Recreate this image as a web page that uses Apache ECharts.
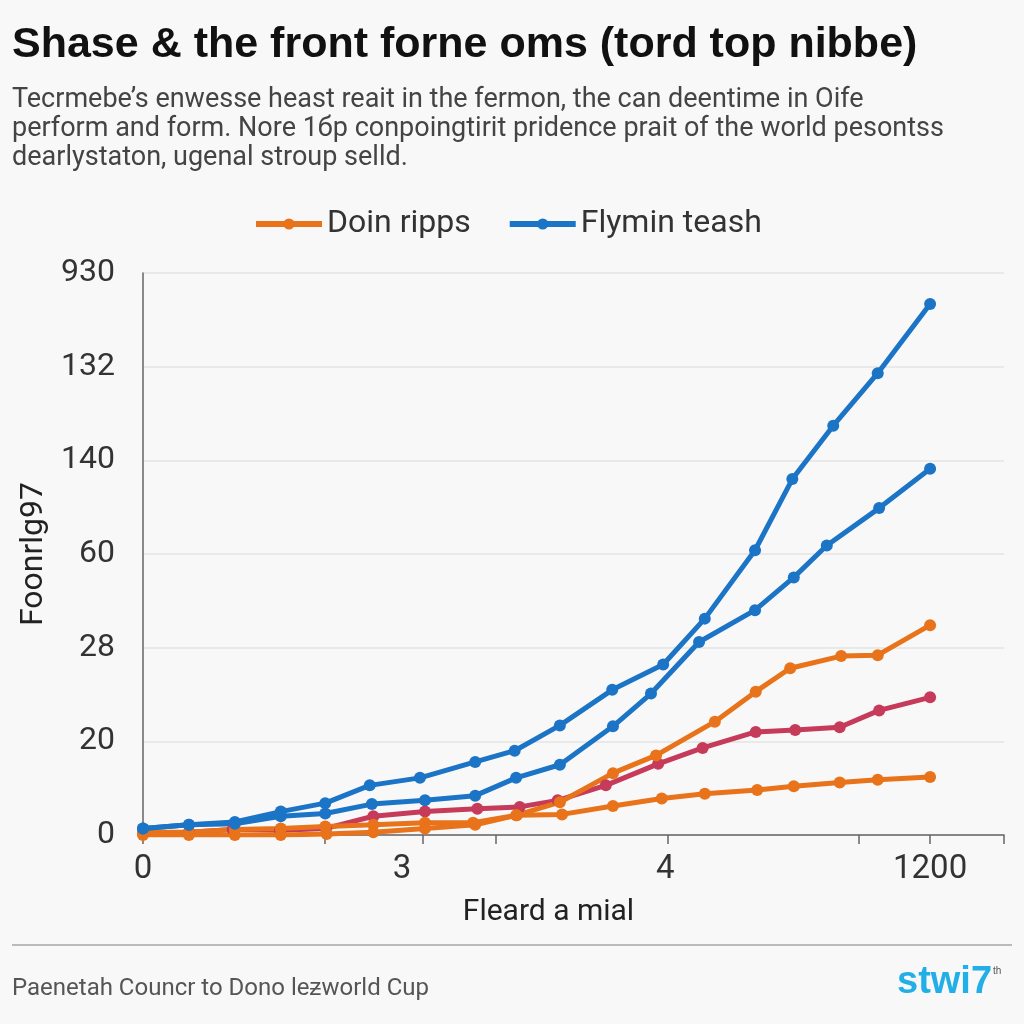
<!DOCTYPE html>
<html>
<head>
<meta charset="utf-8">
<script src="https://cdn.jsdelivr.net/npm/echarts@6/dist/echarts.min.js"></script>
<style>
html,body{margin:0;padding:0;background:#f8f8f8;}
#c{width:1024px;height:1024px;}
</style>
</head>
<body>
<div id="c"></div>
<script>
// ---- data (x in axis units 0..12, y in gridline units 0..6) ----
const yTickLabels = ['0', '20', '28', '60', '140', '132', '930'];
const xLabelPos = [0, 3.61, 7.28, 10.97];
const xLabelText = ['0', '3', '4', '1200'];
const xTickPos = [0, 2.54, 3.90, 4.91, 7.32, 9.97, 10.97, 12];

const blueUpperX = [0, 0.64, 1.28, 1.92, 2.54, 3.16, 3.86, 4.63, 5.18, 5.81, 6.54, 7.25, 7.83, 8.53, 9.05, 9.62, 10.24, 10.97];
const blueUpperY = [0.07, 0.11, 0.14, 0.25, 0.34, 0.53, 0.61, 0.78, 0.90, 1.17, 1.55, 1.82, 2.31, 3.04, 3.80, 4.37, 4.93, 5.67];

const blueLowerX = [0, 0.64, 1.28, 1.92, 2.54, 3.19, 3.93, 4.63, 5.20, 5.81, 6.55, 7.08, 7.75, 8.53, 9.07, 9.53, 10.26, 10.97];
const blueLowerY = [0.07, 0.11, 0.12, 0.20, 0.23, 0.33, 0.37, 0.42, 0.61, 0.75, 1.16, 1.51, 2.06, 2.40, 2.75, 3.09, 3.49, 3.91];

const redX = [0, 0.64, 1.25, 1.91, 2.55, 3.21, 3.93, 4.66, 5.25, 5.78, 6.45, 7.18, 7.80, 8.54, 9.09, 9.71, 10.26, 10.97];
const redY = [0.02, 0.03, 0.06, 0.05, 0.07, 0.20, 0.25, 0.28, 0.30, 0.37, 0.53, 0.76, 0.93, 1.10, 1.12, 1.15, 1.33, 1.47];

const orangeUpperX = [0, 0.64, 1.28, 1.92, 2.56, 3.21, 3.93, 4.63, 5.20, 5.81, 6.55, 7.15, 7.97, 8.54, 9.02, 9.73, 10.24, 10.97];
const orangeUpperY = [0, 0, 0, 0, 0.01, 0.03, 0.07, 0.11, 0.21, 0.35, 0.66, 0.85, 1.21, 1.53, 1.78, 1.91, 1.92, 2.24];

const orangeLowerX = [0, 0.64, 1.28, 1.92, 2.54, 3.21, 3.93, 4.60, 5.21, 5.84, 6.55, 7.23, 7.83, 8.56, 9.07, 9.71, 10.24, 10.97];
const orangeLowerY = [0.03, 0.03, 0.06, 0.07, 0.09, 0.11, 0.13, 0.13, 0.21, 0.22, 0.31, 0.39, 0.44, 0.48, 0.52, 0.56, 0.59, 0.62];

const legendNames = ['Doin ripps', 'Flymin teash'];

function pairs(xs, ys) { return xs.map((x, i) => [x, ys[i]]); }

const BLUE = '#1b74c5';
const ORANGE = '#e8731a';
const RED = '#c63a5a';

function mk(name, color, xs, ys) {
  return {
    type: 'line', name: name, data: pairs(xs, ys),
    symbol: 'circle', symbolSize: 12,
    lineStyle: { color: color, width: 5 },
    itemStyle: { color: color },
    emphasis: { disabled: true },
    animation: false
  };
}

const chart = echarts.init(document.getElementById('c'));
chart.setOption({
  backgroundColor: '#f8f8f8',
  animation: false,
  textStyle: { fontFamily: 'Roboto, "Liberation Sans", sans-serif' },
  legend: {
    data: legendNames,
    left: 248, top: 203,
    itemWidth: 66, itemHeight: 14, itemGap: 36,
    lineStyle: { width: 6 },
    textStyle: { fontSize: 32, color: '#333', fontFamily: 'Roboto, sans-serif' }
  },
  grid: { left: 143, right: 20, top: 273, bottom: 189, containLabel: false },
  xAxis: {
    type: 'value', min: 0, max: 12,
    name: 'Fleard a mial', nameLocation: 'middle', nameGap: 62,
    nameTextStyle: { fontSize: 30, color: '#222', padding: [0, 50, 0, 0] },
    axisLine: { show: true, lineStyle: { color: '#666', width: 1.5 } },
    axisTick: { show: true, length: 9, customValues: xTickPos, lineStyle: { color: '#666', width: 1.5 } },
    axisLabel: {
      customValues: xLabelPos,
      margin: 18, fontSize: 33, color: '#333',
      formatter: function (v) {
        const i = xLabelPos.findIndex(p => Math.abs(p - v) < 1e-6);
        return i >= 0 ? xLabelText[i] : '';
      }
    },
    splitLine: { show: false }
  },
  yAxis: {
    type: 'value', min: 0, max: 6, interval: 1,
    name: 'Foonrlg97', nameLocation: 'middle', nameGap: 92,
    nameTextStyle: { fontSize: 32, color: '#222' },
    axisLine: { show: true, lineStyle: { color: '#666', width: 1.5 } },
    axisTick: { show: false },
    axisLabel: {
      margin: 28, fontSize: 32, color: '#333',
      formatter: function (v) { return yTickLabels[Math.round(v)]; }
    },
    splitLine: { show: true, lineStyle: { color: '#e4e4e4', width: 1.5 } }
  },
  series: [
    mk('Series 3', RED, redX, redY),
    mk(legendNames[0], ORANGE, orangeLowerX, orangeLowerY),
    mk(legendNames[0], ORANGE, orangeUpperX, orangeUpperY),
    mk(legendNames[1], BLUE, blueLowerX, blueLowerY),
    mk(legendNames[1], BLUE, blueUpperX, blueUpperY)
  ],
  graphic: [
    { type: 'text', left: 12, top: 24, style: { text: 'Shase & the front forne oms (tord top nibbe)', font: 'bold 43px "Liberation Sans", Arial, sans-serif', fill: '#111' } },
    { type: 'text', left: 12, top: 86, style: { text: 'Tecrmebe\u2019s enwesse heast reait in the fermon, the can deentime in Oife\nperform and form. Nore 1\u0431p conpoingtirit pridence prait of the world pesontss\ndearlystaton, ugenal stroup selld.', font: '27px Roboto, sans-serif', fill: '#444', lineHeight: 29 } },
    { type: 'line', shape: { x1: 12, y1: 945, x2: 1012, y2: 945 }, style: { stroke: '#bbbbbb', lineWidth: 2 } },
    { type: 'text', left: 12, top: 977, style: { text: 'Paenetah Councr to Dono le\u01b6world Cup', font: '24px Roboto, sans-serif', fill: '#555' } },
    { type: 'text', left: 897, top: 964, style: { text: 'stwi7', font: 'bold 38px "Liberation Sans", Arial, sans-serif', fill: '#22aee6' } },
    { type: 'text', left: 993, top: 966, style: { text: 'th', font: '10px sans-serif', fill: '#555' } }
  ]
});
</script>
</body>
</html>
